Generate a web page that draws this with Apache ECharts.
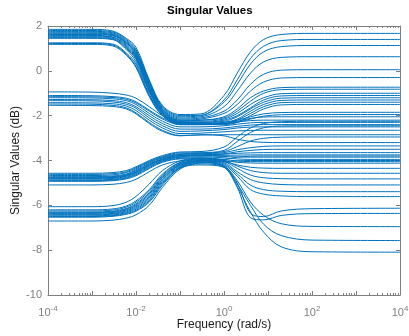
<!DOCTYPE html>
<html><head><meta charset="utf-8">
<script src="https://cdn.jsdelivr.net/npm/echarts@6/dist/echarts.min.js"></script>
<style>html,body{margin:0;padding:0;background:#fff}#c{width:409px;height:336px}</style>
</head><body><div id="c"></div>
<script>
const freq = [1e-4, 1e-3, 3e-3, 6e-3, 1e-2, 2e-2, 4e-2, 1e-1, 3e-1, 1, 2, 4, 8, 20, 100, 1e4];

// Upper singular values (dB)
const u1  = [1.85,1.85,1.77,1.45,1.05,-0.4,-1.55,-1.95,-1.92,-1.1,-0.1,0.85,1.4,1.62,1.67,1.67];
const u2  = [1.80,1.80,1.73,1.4,0.95,-0.45,-1.6,-2.0,-1.98,-1.3,-0.4,0.55,1.1,1.35,1.4,1.4];
const u3  = [1.76,1.76,1.69,1.35,0.9,-0.5,-1.65,-2.05,-2.0,-1.4,-0.6,0.3,0.85,1.08,1.13,1.13];
const u4  = [1.72,1.72,1.65,1.3,0.85,-0.55,-1.7,-2.1,-2.05,-1.6,-0.9,-0.1,0.4,0.6,0.63,0.63];
const u5  = [1.68,1.68,1.61,1.25,0.8,-0.6,-1.72,-2.15,-2.1,-1.8,-1.3,-0.6,-0.15,0.03,0.05,0.05];
const u6  = [1.65,1.65,1.59,1.25,0.75,-0.65,-1.75,-2.2,-2.15,-1.9,-1.5,-0.9,-0.5,-0.32,-0.3,-0.3];
const u7  = [1.62,1.62,1.56,1.2,0.7,-0.7,-1.8,-2.2,-2.2,-2.05,-1.7,-1.2,-0.9,-0.75,-0.73,-0.73];
const u8  = [1.58,1.58,1.51,1.15,0.65,-0.75,-1.8,-2.25,-2.2,-2.1,-1.8,-1.35,-1.0,-0.84,-0.82,-0.82];
const u9  = [1.55,1.55,1.49,1.1,0.6,-0.8,-1.85,-2.25,-2.25,-2.15,-1.9,-1.5,-1.2,-1.02,-1.0,-1.0];
const u10 = [1.52,1.52,1.45,1.05,0.55,-0.85,-1.85,-2.3,-2.3,-2.2,-2.0,-1.65,-1.3,-1.12,-1.1,-1.1];
const u11 = [1.48,1.48,1.41,1.0,0.5,-0.9,-1.9,-2.3,-2.3,-2.25,-2.05,-1.7,-1.4,-1.22,-1.2,-1.2];
const u12 = [1.45,1.45,1.39,0.95,0.4,-0.95,-1.92,-2.35,-2.35,-2.3,-2.15,-1.8,-1.5,-1.32,-1.3,-1.3];
const u13 = [1.25,1.25,1.19,0.8,0.3,-1.05,-1.95,-2.35,-2.35,-2.35,-2.2,-1.9,-1.6,-1.42,-1.4,-1.4];
const u14 = [1.22,1.22,1.15,0.75,0.2,-1.1,-2.0,-2.4,-2.4,-2.4,-2.3,-2.0,-1.7,-1.52,-1.5,-1.5];
const u15 = [1.18,1.18,1.11,0.7,0.15,-1.15,-2.0,-2.35,-2.35,-2.3,-2.2,-2.05,-1.92,-1.86,-1.85,-1.85];
const u16 = [-0.94,-0.95,-1.0,-1.08,-1.22,-1.6,-2.0,-2.3,-2.35,-2.35,-2.3,-2.15,-2.02,-1.96,-1.95,-1.95];
const u17 = [-1.10,-1.11,-1.15,-1.22,-1.38,-1.75,-2.1,-2.35,-2.38,-2.35,-2.25,-2.12,-2.06,-2.05,-2.05,-2.05];
const u18 = [-1.15,-1.16,-1.19,-1.27,-1.43,-1.8,-2.15,-2.4,-2.4,-2.35,-2.28,-2.22,-2.2,-2.2,-2.2,-2.2];
const u19 = [-1.20,-1.21,-1.25,-1.33,-1.5,-1.9,-2.25,-2.5,-2.5,-2.45,-2.38,-2.32,-2.3,-2.3,-2.3,-2.3];
const u20 = [-1.28,-1.29,-1.33,-1.42,-1.6,-2.0,-2.35,-2.6,-2.6,-2.55,-2.48,-2.42,-2.4,-2.4,-2.4,-2.4];
const u21 = [-1.33,-1.34,-1.39,-1.49,-1.67,-2.1,-2.45,-2.7,-2.68,-2.62,-2.55,-2.51,-2.5,-2.5,-2.5,-2.5];
const u22 = [-1.42,-1.43,-1.47,-1.57,-1.77,-2.2,-2.55,-2.8,-2.78,-2.72,-2.68,-2.66,-2.65,-2.65,-2.65,-2.65];
const u23 = [-1.48,-1.49,-1.54,-1.65,-1.87,-2.3,-2.65,-2.88,-2.86,-2.85,-2.85,-2.85,-2.85,-2.85,-2.85,-2.85];
const u24 = [-1.54,-1.55,-1.59,-1.7,-1.92,-2.35,-2.7,-2.9,-2.85,-2.9,-3.05,-3.15,-3.19,-3.2,-3.2,-3.2];

// Lower singular values (dB)
const l1  = [-4.57,-4.57,-4.54,-4.45,-4.28,-4.0,-3.78,-3.62,-3.6,-3.4,-2.95,-2.55,-2.35,-2.27,-2.25,-2.25];
const l2  = [-4.62,-4.62,-4.59,-4.5,-4.32,-4.04,-3.82,-3.66,-3.65,-3.55,-3.15,-2.75,-2.54,-2.46,-2.45,-2.45];
const l3  = [-4.67,-4.67,-4.64,-4.54,-4.37,-4.07,-3.85,-3.7,-3.68,-3.6,-3.38,-3.13,-3.01,-2.96,-2.95,-2.95];
const l4  = [-4.72,-4.72,-4.69,-4.6,-4.42,-4.11,-3.88,-3.73,-3.7,-3.65,-3.52,-3.43,-3.37,-3.35,-3.35,-3.35];
const l5  = [-4.75,-4.75,-4.72,-4.63,-4.46,-4.15,-3.92,-3.76,-3.74,-3.7,-3.61,-3.55,-3.51,-3.5,-3.5,-3.5];
const l6  = [-4.78,-4.78,-4.75,-4.66,-4.5,-4.18,-3.94,-3.78,-3.76,-3.72,-3.68,-3.66,-3.65,-3.65,-3.65,-3.65];
const l7  = [-4.80,-4.80,-4.77,-4.68,-4.52,-4.2,-3.96,-3.8,-3.78,-3.77,-3.76,-3.75,-3.75,-3.75,-3.75,-3.75];
const l8  = [-4.83,-4.83,-4.8,-4.71,-4.56,-4.24,-3.99,-3.83,-3.8,-3.82,-3.84,-3.85,-3.85,-3.85,-3.85,-3.85];
const l9  = [-4.87,-4.87,-4.84,-4.75,-4.6,-4.28,-4.02,-3.86,-3.84,-3.88,-3.93,-3.95,-3.95,-3.95,-3.95,-3.95];
const l10 = [-4.90,-4.90,-4.87,-4.78,-4.64,-4.32,-4.05,-3.9,-3.88,-3.95,-4.02,-4.05,-4.05,-4.05,-4.05,-4.05];
const l11 = [-4.93,-4.93,-4.9,-4.82,-4.68,-4.36,-4.08,-3.93,-3.92,-4.0,-4.08,-4.11,-4.12,-4.12,-4.12,-4.12];
const l12 = [-5.09,-5.09,-5.06,-4.98,-4.84,-4.5,-4.2,-4.02,-3.98,-4.05,-4.2,-4.3,-4.34,-4.35,-4.35,-4.35];
const l13 = [-6.06,-6.06,-6.01,-5.86,-5.6,-5.05,-4.45,-4.02,-3.9,-4.0,-4.25,-4.45,-4.54,-4.57,-4.57,-4.57];
const l14 = [-6.20,-6.20,-6.16,-6.03,-5.8,-5.3,-4.6,-4.08,-3.93,-4.05,-4.35,-4.65,-4.77,-4.81,-4.82,-4.82];
const l15 = [-6.25,-6.25,-6.21,-6.08,-5.86,-5.37,-4.66,-4.1,-3.96,-4.1,-4.5,-4.85,-5.0,-5.07,-5.09,-5.09];
const l16 = [-6.30,-6.30,-6.26,-6.14,-5.93,-5.44,-4.72,-4.14,-4.0,-4.15,-4.6,-5.1,-5.3,-5.37,-5.39,-5.39];
const l17 = [-6.33,-6.33,-6.29,-6.17,-5.97,-5.5,-4.76,-4.17,-4.02,-4.2,-4.7,-5.3,-5.5,-5.58,-5.61,-5.61];
const l18 = [-6.36,-6.36,-6.32,-6.21,-6.02,-5.56,-4.82,-4.2,-4.05,-4.25,-5.0,-6.35,-6.5,-6.25,-6.15,-6.13];
const l19 = [-6.40,-6.40,-6.36,-6.25,-6.07,-5.62,-4.86,-4.22,-4.08,-4.3,-5.2,-6.55,-6.65,-6.45,-6.37,-6.36];
const l20 = [-6.43,-6.43,-6.39,-6.29,-6.12,-5.68,-4.92,-4.26,-4.1,-4.25,-4.9,-5.85,-6.45,-6.82,-6.94,-6.95];
const l21 = [-6.47,-6.47,-6.43,-6.33,-6.17,-5.74,-4.98,-4.3,-4.15,-4.3,-5.05,-6.0,-6.85,-7.35,-7.55,-7.57];
const l22 = [-6.50,-6.50,-6.46,-6.37,-6.22,-5.8,-5.04,-4.34,-4.2,-4.3,-5.15,-6.3,-7.2,-7.85,-8.07,-8.09];
const l23 = [-6.53,-6.53,-6.49,-6.4,-6.26,-5.86,-5.1,-4.32,-4.0,-3.95,-3.85,-3.81,-3.8,-3.8,-3.8,-3.8];
const l24 = [-6.70,-6.70,-6.66,-6.57,-6.42,-6.0,-5.2,-4.38,-4.1,-4.05,-4.02,-4.0,-4.0,-4.0,-4.0,-4.0];

const curves = [u1,u2,u3,u4,u5,u6,u7,u8,u9,u10,u11,u12,u13,u14,u15,u16,u17,u18,u19,u20,u21,u22,u23,u24,
                l1,l2,l3,l4,l5,l6,l7,l8,l9,l10,l11,l12,l13,l14,l15,l16,l17,l18,l19,l20,l21,l22,l23,l24];

// Axis ticks
const xMajorTicks = [1e-4,1e-3,1e-2,1e-1,1,1e1,1e2,1e3,1e4];
const xLabelTicks = [1e-4,1e-2,1,1e2,1e4];
const xMinorTicks = [];
for (let d = -4; d < 4; d++) for (let k = 2; k <= 9; k++) xMinorTicks.push(k * Math.pow(10, d));

const axisGray = '#7f7f7f';
const font = 'Liberation Sans, Arial, Helvetica, sans-serif';

const chart = echarts.init(document.getElementById('c'), null, {renderer: 'canvas'});

function xAx(pos, major) {
  return {
    type: 'log', logBase: 10, min: 1e-4, max: 1e4, position: pos, gridIndex: 0,
    axisLine: {show: major, onZero: false, lineStyle: {color: axisGray, width: 1}},
    splitLine: {show: false},
    axisTick: {show: true, inside: true, length: major ? 4 : 2,
      customValues: major ? xMajorTicks : xMinorTicks, lineStyle: {color: axisGray, width: 1}},
    axisLabel: {show: false}
  };
}

const bottomMain = xAx('bottom', true);
bottomMain.axisLabel = {
  show: true, customValues: xLabelTicks, margin: 10,
  color: axisGray, fontFamily: font, fontSize: 11, lineHeight: 16,
  formatter: v => '10{sup|' + Math.round(Math.log10(v)) + '}',
  rich: {sup: {fontSize: 8, lineHeight: 10, verticalAlign: 'top', color: axisGray, fontFamily: font}}
};
bottomMain.name = 'Frequency (rad/s)';
bottomMain.nameLocation = 'middle';
bottomMain.nameGap = 24;
bottomMain.nameMoveOverlap = false;
bottomMain.nameTextStyle = {color: '#1a1a1a', fontFamily: font, fontSize: 12};

function yAx(pos, main) {
  return {
    type: 'value', min: -10, max: 2, interval: 2, position: pos, gridIndex: 0,
    axisLine: {show: true, onZero: false, lineStyle: {color: axisGray, width: 1}},
    splitLine: {show: false},
    axisTick: {show: true, inside: true, length: 4, lineStyle: {color: axisGray}},
    axisLabel: main ? {show: true, color: axisGray, fontFamily: font, fontSize: 11, margin: 6} : {show: false},
    name: main ? 'Singular Values (dB)' : '',
    nameLocation: 'middle', nameGap: 26, nameMoveOverlap: false,
    nameTextStyle: {color: '#1a1a1a', fontFamily: font, fontSize: 12}
  };
}

const series = curves.map((c, i) => ({
  type: 'line', xAxisIndex: 0, yAxisIndex: 0,
  data: freq.map((f, j) => [f, c[j]]),
  showSymbol: false, symbol: 'none', smooth: 0.35,
  lineStyle: {color: '#0072BD', width: 1},
  silent: true, animation: false, z: 2
}));

chart.setOption({
  animation: false,
  backgroundColor: '#fff',
  title: {
    text: 'Singular Values', left: 167, top: 5, padding: 0,
    textStyle: {fontFamily: font, fontSize: 11.5, fontWeight: 'bold', color: '#000'}
  },
  grid: {left: 48, right: 9, top: 26, bottom: 41, containLabel: false, outerBoundsMode: 'none'},
  xAxis: [bottomMain, xAx('bottom', false), xAx('top', true), xAx('top', false)],
  yAxis: [yAx('left', true), yAx('right', false)],
  series: series
});
</script>
</body></html>
